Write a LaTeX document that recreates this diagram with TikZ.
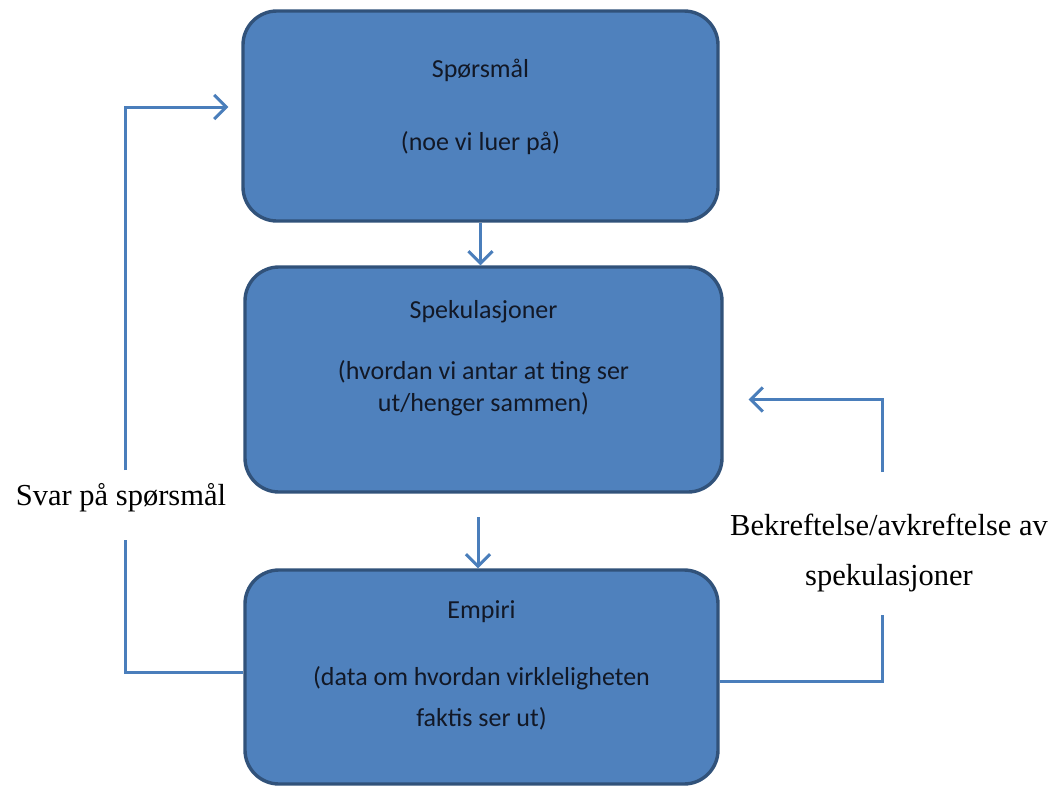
\documentclass[tikz,border=0pt]{standalone}
\usepackage{fontspec}
\setmainfont{Liberation Serif}
\newfontfamily\boxfont{Carlito}
\usetikzlibrary{arrows.meta}
\definecolor{boxfill}{HTML}{4F81BD}
\definecolor{boxline}{HTML}{31527A}
\definecolor{connclr}{HTML}{4A7EBB}
\definecolor{boxtext}{HTML}{121826}
\begin{document}
\begin{tikzpicture}[x=1pt,y=-1pt,
  stagebox/.style={draw=boxline, line width=3.4pt, fill=boxfill, rounded corners=34pt, inner sep=0pt},
  boxtxt/.style={text=boxtext, font=\boxfont\fontsize{26}{31}\selectfont, inner sep=0pt},
  lbl/.style={text=black, font=\fontsize{30.5}{36}\selectfont, inner sep=0pt},
  plainline/.style={draw=connclr, line width=3pt},
  flow/.style={plainline, -{Straight Barb[length=12pt,width=24pt,line width=3pt]}}]
\useasboundingbox (0,0) rectangle (1049,787);
\fill[white] (0,0) rectangle (1049,787);

% boxes
\node[stagebox, minimum width=475pt, minimum height=210pt] (b1) at (480.5,116) {};
\node[stagebox, minimum width=477pt, minimum height=225pt] (b2) at (483.5,379.5) {};
\node[stagebox, minimum width=473pt, minimum height=214pt] (b3) at (481.5,677) {};

% box texts
\node[boxtxt] (t1a) at (480.5,70) {Spørsmål};
\node[boxtxt] (t1b) at (480.5,143) {(noe vi luer på)};
\node[boxtxt] (t2a) at (483.5,312) {Spekulasjoner};
\node[boxtxt] (t2b) at (483.5,372) {(hvordan vi antar at ting ser};
\node[boxtxt] (t2c) at (483.5,404) {ut/henger sammen)};
\node[boxtxt] (t3a) at (481.5,612) {Empiri};
\node[boxtxt] (t3b) at (481.5,678) {(data om hvordan virkleligheten};
\node[boxtxt] (t3c) at (481.5,719) {faktis ser ut)};

% side labels
\node[lbl] (svar) at (121,498) {Svar på spørsmål};
\node[lbl] (bek1) at (889,525) {Bekreftelse/avkreftelse av};
\node[lbl] (bek2) at (889,578) {spekulasjoner};

% free ends of the broken connectors
\coordinate (a2s) at (478,517);
\coordinate (lb) at (125,540);
\coordinate (lt) at (125,470);
\coordinate (rb) at (882,615);
\coordinate (rt) at (882,472);

% connectors
\draw[flow] (b1.south) -- (b1.south |- b2.north);
\draw[flow] (a2s) -- (a2s |- b3.north);
\draw[plainline] ([yshift=5pt]b3.west) -| (lb);
\draw[flow] (lt) |- ([xshift=-13pt,yshift=9pt]b1.west);
\draw[plainline] ([yshift=-4pt]b3.east) -| (rb);
\draw[flow] (rt) |- ([xshift=25pt,yshift=-20pt]b2.east);
\end{tikzpicture}
\end{document}
